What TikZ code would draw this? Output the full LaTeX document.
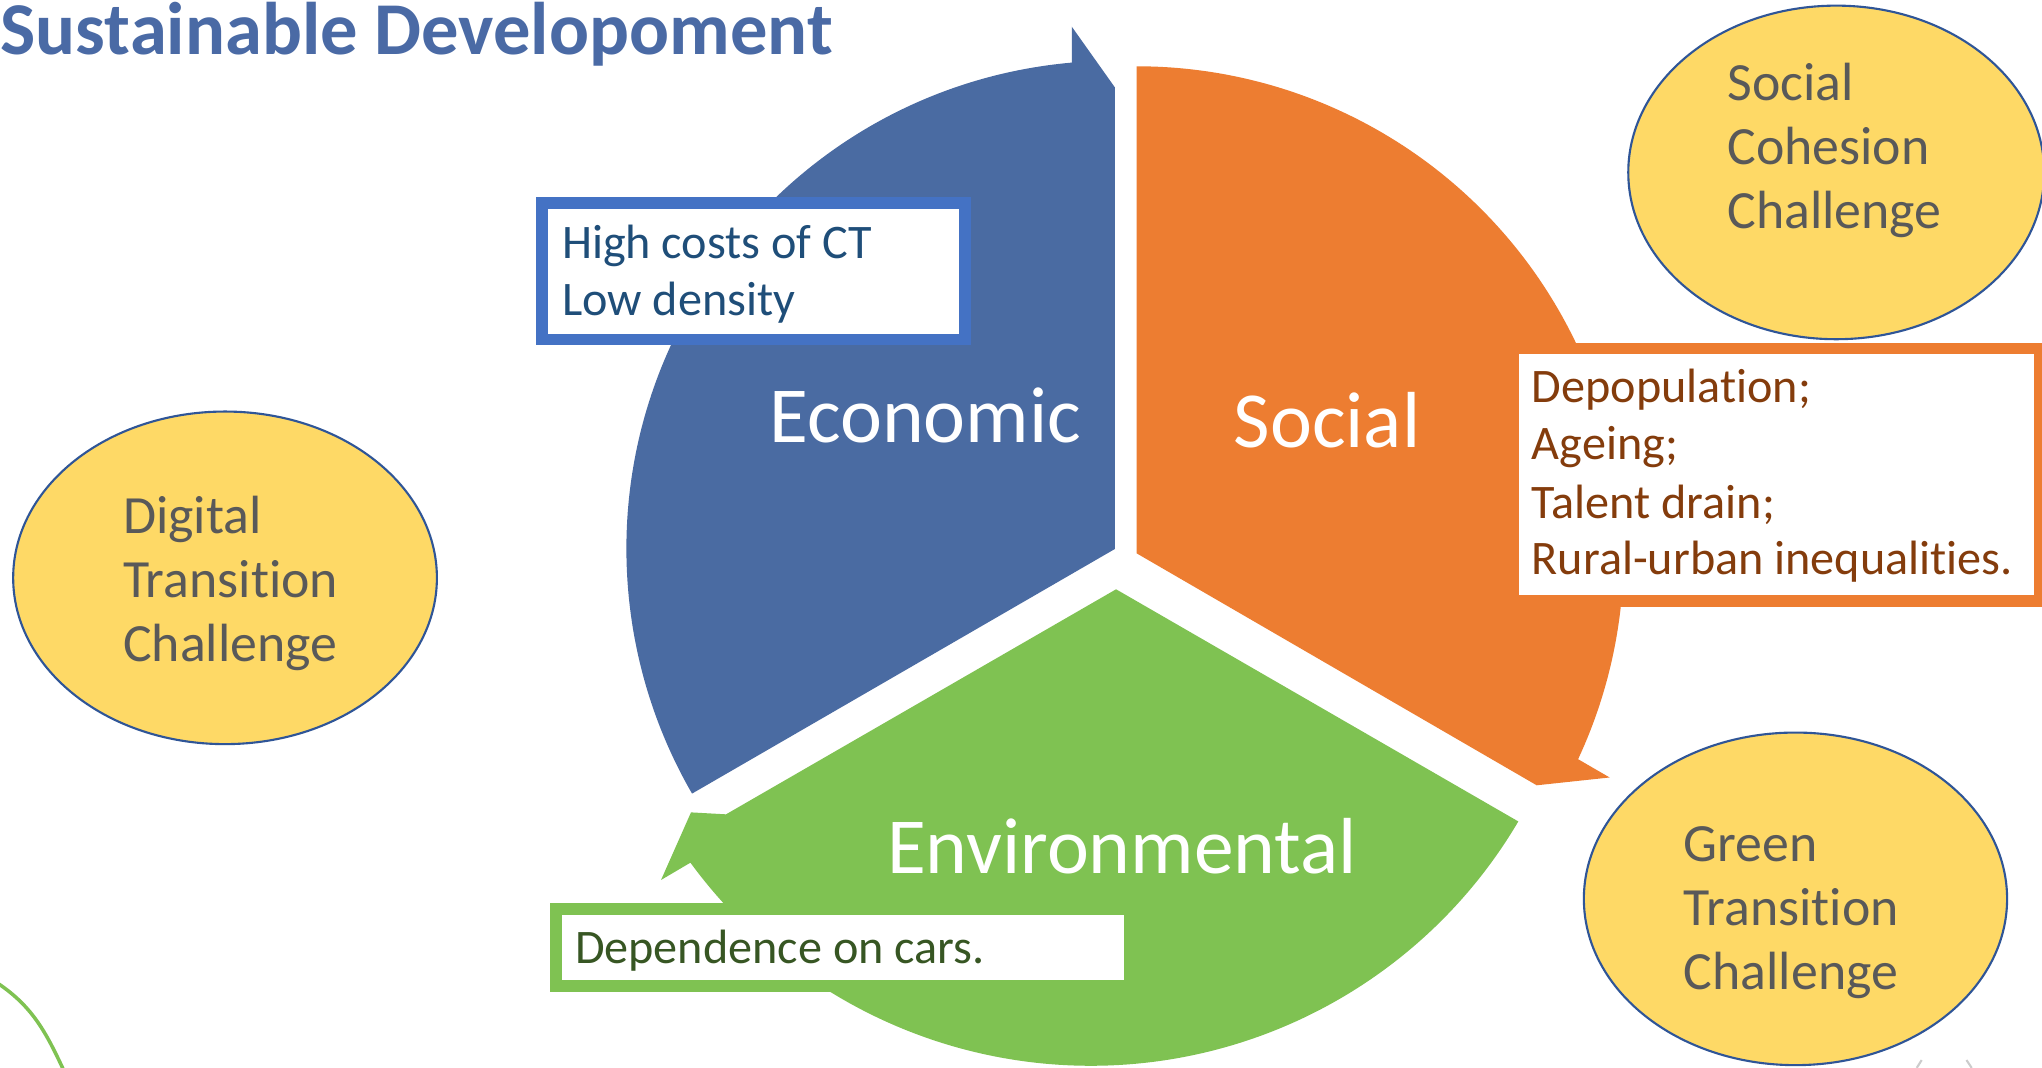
\documentclass[tikz,border=0pt]{standalone}
\usepackage{fontspec}
\setmainfont{Carlito}[Ligatures={NoCommon}]
\usetikzlibrary{shapes.geometric}
\definecolor{segblue}{HTML}{4A6BA2}
\definecolor{segorange}{HTML}{ED7D31}
\definecolor{seggreen}{HTML}{7FC252}
\definecolor{boxblue}{HTML}{4472C4}
\definecolor{txtblue}{HTML}{1F4E79}
\definecolor{txtbrown}{HTML}{843C0C}
\definecolor{txtgreen}{HTML}{375623}
\definecolor{ellfill}{HTML}{FED966}
\definecolor{elldraw}{HTML}{2F5597}
\definecolor{elltext}{HTML}{595959}
\definecolor{titleblue}{HTML}{4A6AA5}
\begin{document}
\begin{tikzpicture}[x=0.013023cm, y=0.013023cm,
  seglabel/.style={text=white, font=\fontsize{22.6}{26}\selectfont, inner sep=0, anchor=base},
  boxtext/.style={font=\fontsize{13.7}{16.6}\selectfont, inner sep=0, anchor=base west},
  ctext/.style={text=elltext, font=\fontsize{15.3}{18}\selectfont, inner sep=0, anchor=base west},
  challenge/.style={ellipse, draw=elldraw, line width=0.6pt, fill=ellfill, inner sep=0, outer sep=0},
  issuebox/.style={rectangle, fill=white, line width=3.3pt, inner sep=0, outer sep=0}]
\useasboundingbox (0,0) rectangle (1568,820);
\clip (0,0) rectangle (1568,820);
\fill[white] (0,0) rectangle (1568,820);

% title
\node[inner sep=0, anchor=base west, text=titleblue, font=\fontsize{21.2}{25}\selectfont\bfseries] (title) at (0,777.8) {Sustainable Developoment};

% segment centres
\coordinate (cb) at (856,398.4);
\coordinate (co) at (872.8,395.1);
\coordinate (cg) at (837.6,382.6);
\coordinate (gv) at (857,367.5);

% Economic (blue)
\fill[segblue] (cb) -- (856,753) -- (823,799.5) -- ([shift={(95.04:375)}]cb)
  arc[start angle=95.04, end angle=210.05, radius=375] -- cycle;
% Social (orange)
\fill[segorange] (co) -- ([shift={(90:374)}]co)
  arc[start angle=90, end angle=-25, radius=374] -- (1236,223) -- (1180,217) -- cycle;
% Environmental (green)
\fill[seggreen] (gv) -- ([shift={(-30.5:381)}]cg)
  arc[start angle=-30.5, end angle=-143.8, radius=381] -- (507.6,144.3) -- (530.6,196.2) -- (557.5,194.7) -- cycle;

\node[seglabel] (econ) at (710.5,480) {Economic};
\node[seglabel] (soc) at (1019,476) {Social};
\node[seglabel] (env) at (861.5,149) {Environmental};

% issue boxes
\node[issuebox, draw=boxblue, minimum width=4.230cm, minimum height=1.360cm] (bbox) at (578.6,611.7) {};
\node[boxtext, text=txtblue] (b1) at (431,621.6) {High costs of CT};
\node[boxtext, text=txtblue] (b2) at (431,578.1) {Low density};

\node[issuebox, draw=segorange, minimum width=5.261cm, minimum height=2.524cm] (obox) at (1364,455.5) {};
\node[boxtext, text=txtbrown] (o1) at (1175.7,510.8) {Depopulation;};
\node[boxtext, text=txtbrown] (o2) at (1175.7,466.8) {Ageing;};
\node[boxtext, text=txtbrown] (o3) at (1175.7,422) {Talent drain;};
\node[boxtext, text=txtbrown] (o4) at (1175.7,378.5) {Rural-urban inequalities.};

\node[issuebox, draw=seggreen, minimum width=5.737cm, minimum height=0.772cm] (gbox) at (647.25,92.35) {};
\node[boxtext, text=txtgreen] (g1) at (441,80.3) {Dependence on cars.};

% challenge ellipses
\node[challenge, minimum width=4.157cm, minimum height=3.334cm] (esoc) at (1410,687.6) {};
\node[ctext] (s1) at (1326,743.2) {Social};
\node[ctext] (s2) at (1326,693.8) {Cohesion};
\node[ctext] (s3) at (1326,644.7) {Challenge};

\node[challenge, minimum width=4.235cm, minimum height=3.324cm] (edig) at (172.8,376.3) {};
\node[ctext] (d1) at (94,410.5) {Digital};
\node[ctext] (d2) at (94,361.3) {Transition};
\node[ctext] (d3) at (94,312) {Challenge};

\node[challenge, minimum width=4.230cm, minimum height=3.324cm] (egre) at (1378.7,129.8) {};
\node[ctext] (r1) at (1292.5,158.3) {Green};
\node[ctext] (r2) at (1292.5,109.2) {Transition};
\node[ctext] (r3) at (1292.5,60.3) {Challenge};

% cut-off fragments at the edges
\draw[seggreen, line width=1pt] (-4,66.5) to[out=-33, in=115] (49,-2);
\draw[gray!40, line width=0.6pt] (1471.8,0) -- (1475.6,6) (1510,6) -- (1514,0);
\end{tikzpicture}
\end{document}
